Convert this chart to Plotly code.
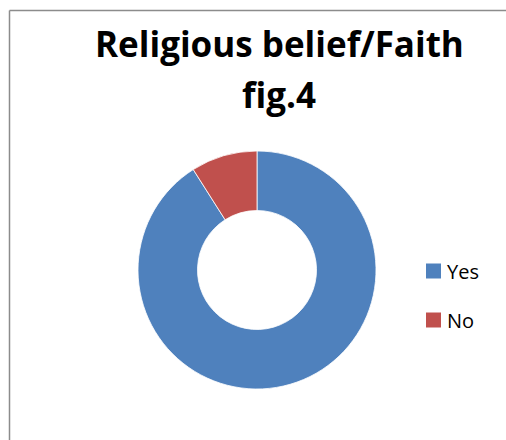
import plotly.graph_objects as go

labels = ["Yes", "No"]
values = [91, 9]
colors = ["#4F81BD", "#C0504D"]
title_lines = ["Religious belief/Faith", "fig.4"]

W, H = 506, 440
cx, cy, r = 257, 270, 119

fig = go.Figure(go.Pie(
    labels=labels, values=values, hole=0.5, sort=False,
    direction="clockwise", rotation=0,
    marker=dict(colors=colors, line=dict(color="white", width=0.8)),
    textinfo="none", hoverinfo="label+percent", showlegend=False,
    domain=dict(x=[(cx - r) / W, (cx + r) / W], y=[(H - cy - r) / H, (H - cy + r) / H]),
))

bx, by = 9.5 / W, 1 - 10.5 / H
shapes = [
    dict(type="line", xref="paper", yref="paper", x0=bx, x1=bx, y0=0, y1=by,
         line=dict(color="#8C8C8C", width=1.5)),
    dict(type="line", xref="paper", yref="paper", x0=bx, x1=1, y0=by, y1=by,
         line=dict(color="#8C8C8C", width=1.5)),
]
annotations = []
for line, top in zip(title_lines, [18, 69]):
    annotations.append(dict(text=line, xref="paper", yref="paper",
                            x=279 / W, y=1 - top / H, xanchor="center", yanchor="top",
                            showarrow=False, align="center",
                            font=dict(family="Open Sans", size=35, color="black", weight="bold")))

leg_y = [271, 320]
for lab, col, ly in zip(labels, colors, leg_y):
    shapes.append(dict(type="rect", xref="paper", yref="paper",
                       x0=426 / W, x1=441 / W, y0=1 - (ly + 7.5) / H, y1=1 - (ly - 7.5) / H,
                       line=dict(width=0), fillcolor=col))
    annotations.append(dict(text=lab, xref="paper", yref="paper",
                            x=445 / W, y=1 - ly / H, xanchor="left", yanchor="middle",
                            showarrow=False,
                            font=dict(family="Open Sans", size=20, color="black")))

fig.update_layout(width=W, height=H, margin=dict(l=0, r=0, t=0, b=0),
                  paper_bgcolor="white", plot_bgcolor="white",
                  shapes=shapes, annotations=annotations)
fig.write_html("out.html", config={"displayModeBar": False},
               post_script="document.documentElement.style.overflow='hidden';"
                           "document.body.style.margin='0';document.body.style.overflow='hidden';")
